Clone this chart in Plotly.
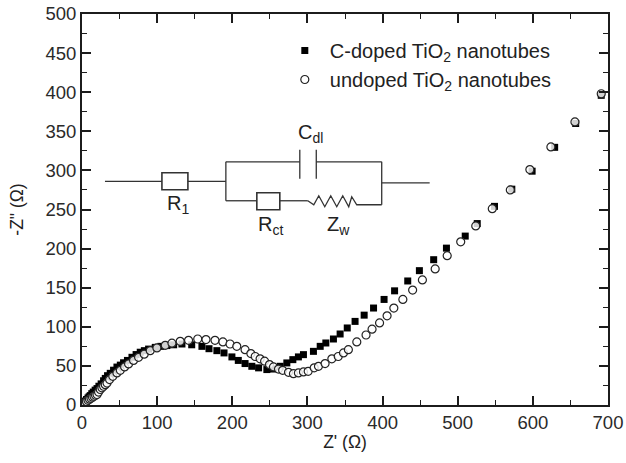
import plotly.graph_objects as go

W, H = 626, 463
L, R, T, B = 82, 608.5, 14, 405.5

c_doped_x = [1.5, 3, 4.4, 6, 8, 9.5, 11, 13, 15, 17.5, 20, 22.5, 25.5, 28.7, 31, 34, 37.6, 42, 46.5, 51, 55.3, 60.5, 66.5, 72, 77.5, 83, 88.6, 97.5, 105, 113, 122, 133, 146, 159.6, 169, 179.5, 189, 199.5, 208, 217, 226, 235, 246, 254.6, 263.7, 272.6, 280.6, 288, 294.7, 308, 317, 324.5, 334.6, 343.5, 353, 363.4, 375.5, 388, 402, 416, 433.5, 449, 468, 485, 510, 526, 549, 572, 599, 629, 657, 691]
c_doped_y = [1.5, 3, 5, 7, 9, 10.5, 12, 14.5, 16.5, 19, 21, 24, 27, 31, 34, 37.5, 40.5, 44.5, 48.5, 51, 54, 57, 61, 64.5, 67.5, 69.5, 71.5, 73.7, 75, 76, 77, 78, 77, 75, 72, 69.5, 66.6, 61.5, 57, 53, 49.5, 47.5, 45.3, 46, 49.5, 53.8, 58, 61.5, 64.4, 68.6, 75, 79.3, 84.4, 90.8, 98.5, 106.9, 114.9, 124, 135, 146, 158.6, 171.8, 185.8, 200.6, 216, 232, 254, 276, 299, 329.5, 360, 396]

undoped_x = [2, 4, 6, 8, 10, 12, 14, 16, 18, 20, 22, 24.3, 26.5, 28.7, 31, 33.3, 36.7, 41, 46.5, 51, 56.7, 62, 68.6, 75.3, 82.8, 90.8, 99.7, 110.8, 119.7, 130.7, 141.8, 154, 165, 177, 187.5, 197, 206, 217, 224.7, 230.5, 237, 243, 249.5, 254.8, 261.5, 267, 274.8, 281.4, 288, 294.7, 301, 309, 314.7, 323.5, 332.5, 341, 348, 354.5, 365.7, 378, 386, 396, 406, 415, 427, 440, 453, 470, 486, 504, 524, 546, 570, 596, 624, 656, 691]
undoped_y = [1.5, 3, 4.5, 6, 7.5, 8.5, 10, 11.2, 12.5, 13.4, 16.5, 19.8, 22, 24, 26, 28, 32.5, 36.7, 41, 44.4, 48.7, 52.5, 57, 61, 65, 69.5, 73, 76.3, 79, 81.4, 82.7, 84.4, 83.6, 82.7, 80.6, 78, 75, 70.8, 65.7, 62, 59, 56, 51.7, 48.7, 46, 44.4, 41.8, 40, 41, 42.3, 43, 47.5, 49.5, 53, 59, 62, 66.6, 70.8, 80.6, 89.5, 97, 105, 114, 124, 135, 147, 160, 174, 191, 208.7, 229, 251, 275, 301, 330, 362, 398]

x_ticks = [0, 100, 200, 300, 400, 500, 600, 700]
y_ticks = [0, 50, 100, 150, 200, 250, 300, 350, 400, 450, 500]
series_names = ["C-doped TiO<sub>2</sub> nanotubes", "undoped TiO<sub>2</sub> nanotubes"]

INK = "#1c1c1c"
FONT = "Liberation Sans"


def px(x):
    return (x - L) / (R - L)


def py(y):
    return (B - y) / (B - T)


fig = go.Figure()
fig.add_trace(go.Scatter(x=c_doped_x, y=c_doped_y, mode="markers", name=series_names[0], cliponaxis=True,
                         marker=dict(symbol="square", size=7, color="#000000", line=dict(width=0))))
fig.add_trace(go.Scatter(x=undoped_x, y=undoped_y, mode="markers", name=series_names[1], cliponaxis=True,
                         marker=dict(symbol="circle", size=8, color="rgba(255,255,255,0.82)",
                                     line=dict(width=1.2, color="#222222"))))

axis_common = dict(showgrid=False, zeroline=False, showline=True, mirror="ticks", linecolor=INK, linewidth=2,
                   ticks="inside", ticklen=9, tickwidth=1.6, tickcolor=INK, automargin=False,
                   tickfont=dict(family=FONT, size=18.5, color="#2a2a2a"))
fig.update_xaxes(range=[0, 700], tickvals=x_ticks,
                 minor=dict(ticks="inside", ticklen=5, tickwidth=1.4, tickcolor=INK, dtick=50),
                 title=dict(text="Z' (Ω)", standoff=4, font=dict(family=FONT, size=17.5, color="#222222")), **axis_common)
fig.update_yaxes(range=[0, 500], tickvals=y_ticks,
                 minor=dict(ticks="inside", ticklen=5, tickwidth=1.4, tickcolor=INK, dtick=25),
                 title=dict(text='-Z" (Ω)', standoff=17, font=dict(family=FONT, size=17.5, color="#222222")), **axis_common)

# equivalent circuit inset, in page pixels
wires = [
    [(105, 181.5), (162, 181.5)], [(188, 181.5), (226, 181.5)], [(226, 162), (226, 201)],
    [(226, 162), (300, 162)], [(300, 150), (300, 179)], [(316.5, 150), (316.5, 179)],
    [(316.5, 162), (382, 162)], [(382, 162), (382, 205)], [(382, 183), (430, 183)],
    [(226, 201), (257, 201)], [(280, 201), (308, 201)],
    [(308, 201), (314, 205), (319, 196), (325, 207), (331, 196), (337, 207), (343, 196), (349, 207), (352, 197), (357, 205), (382, 205)],
]
shapes = []
for w in wires:
    path = "M " + " L ".join(f"{px(a):.5f},{py(b):.5f}" for a, b in w)
    shapes.append(dict(type="path", xref="paper", yref="paper", path=path, line=dict(color="#333333", width=1.3)))
for x0, y0, x1, y1 in [(162, 173, 188, 190), (257, 193, 280, 210)]:
    shapes.append(dict(type="rect", xref="paper", yref="paper", x0=px(x0), x1=px(x1), y0=py(y0), y1=py(y1),
                       line=dict(color="#333333", width=1.6)))

labels = [
    ("R<sub>1</sub>", 178, 205), ("C<sub>dl</sub>", 311, 134), ("R<sub>ct</sub>", 271, 226), ("Z<sub>w</sub>", 339, 226),
]
annotations = [dict(text=t, x=px(a), y=py(b), xref="paper", yref="paper", showarrow=False,
                    font=dict(family=FONT, size=20, color="#222222"), xanchor="center", yanchor="middle")
               for t, a, b in labels]
fig.update_layout(
    shapes=shapes,
    annotations=annotations,
    width=W, height=H, autosize=False,
    margin=dict(l=L, r=W - R, t=T, b=H - B, pad=0),
    paper_bgcolor="white", plot_bgcolor="white",
    font=dict(family=FONT),
    legend=dict(x=px(280), y=py(31), xref="paper", yref="paper", xanchor="left", yanchor="top",
                bgcolor="rgba(0,0,0,0)", font=dict(family=FONT, size=20, color="#222222"),
                itemsizing="trace", itemwidth=40),
)
fig.write_html("out.html", config=dict(displayModeBar=False),
               post_script="document.body.style.margin='0';document.documentElement.style.overflow='hidden';")
